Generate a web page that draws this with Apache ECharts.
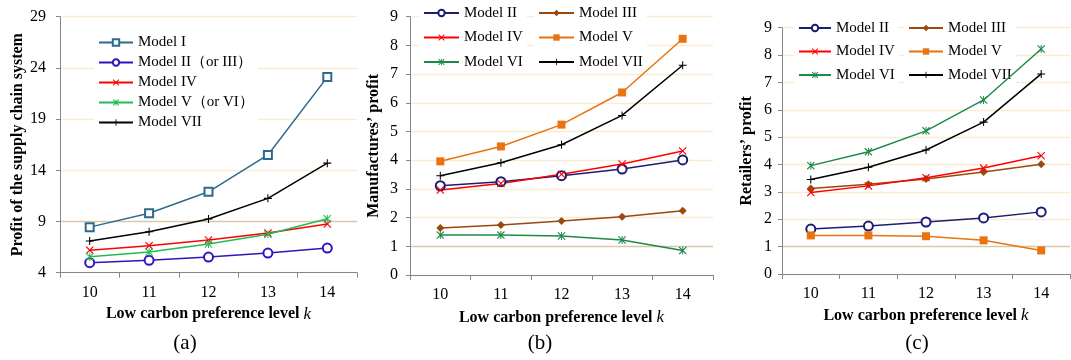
<!DOCTYPE html>
<html>
<head>
<meta charset="utf-8">
<script src="https://cdn.jsdelivr.net/npm/echarts@6/dist/echarts.min.js"></script>
<style>html,body{margin:0;padding:0;background:#fff}#c{width:1071px;height:360px}</style>
</head>
<body>
<div id="c"></div>
<script>
// ---- data ----
const categories = ['10', '11', '12', '13', '14'];
// (a) profit of the supply chain system
const sysModelI = [8.45, 9.8, 11.9, 15.5, 23.1];
const sysModelII = [4.98, 5.21, 5.53, 5.92, 6.41];
const sysModelIV = [6.2, 6.64, 7.19, 7.88, 8.76];
const sysModelV = [5.56, 6.02, 6.8, 7.75, 9.27];
const sysModelVII = [7.1, 8.0, 9.24, 11.26, 14.7];
// (b) manufacturers' profit
const mfgII = [3.11, 3.25, 3.46, 3.69, 4.01];
const mfgIII = [1.64, 1.74, 1.88, 2.03, 2.24];
const mfgIV = [2.96, 3.19, 3.51, 3.87, 4.32];
const mfgV = [3.96, 4.48, 5.24, 6.36, 8.23];
const mfgVI = [1.39, 1.39, 1.36, 1.22, 0.85];
const mfgVII = [3.46, 3.91, 4.54, 5.56, 7.31];
// (c) retailers' profit
const retII = [1.64, 1.75, 1.90, 2.05, 2.27];
const retIII = [3.12, 3.28, 3.47, 3.73, 4.01];
const retIV = [2.98, 3.22, 3.52, 3.87, 4.32];
const retV = [1.41, 1.41, 1.38, 1.23, 0.86];
const retVI = [3.96, 4.47, 5.23, 6.36, 8.22];
const retVII = [3.45, 3.90, 4.53, 5.55, 7.31];

const panelTitles = ['(a)', '(b)', '(c)'];
const yNames = ['Profit of the supply chain system', 'Manufactures\u2019 profit', 'Retailers\u2019 profit'];

// ---- styling ----
const FONT = '"Liberation Serif", "Times New Roman", "Noto Serif", serif';
const AXIS = '#868686';
const GRID_LIGHT = '#FAEBD2';
const GRID_DARK = '#D8CAA8';

const X_PATH = 'path://M0,1 L1,0 L5,4 L9,0 L10,1 L6,5 L10,9 L9,10 L5,6 L1,10 L0,9 L4,5 Z';
const PLUS_PATH = 'path://M4.35,0 H5.65 V4.35 H10 V5.65 H5.65 V10 H4.35 V5.65 H0 V4.35 H4.35 Z';
const STAR_PATH = 'path://M0,1 L1,0 L5,4 L9,0 L10,1 L6,5 L10,9 L9,10 L5,6 L1,10 L0,9 L4,5 Z M4.4,0 H5.6 V10 H4.4 Z';

const C = {
  I: '#2E6A8E', IIa: '#3214BE', IV: '#FF0000', Va: '#22BB55', VII: '#000000',
  II: '#1C1C72', III: '#9A480C', V: '#E8730F', VI: '#1E8A4A'
};

function mk(name, data, color, symbol, size, idx, empty) {
  return {
    type: 'line', name: name, data: data,
    xAxisIndex: idx, yAxisIndex: idx,
    symbol: symbol, symbolSize: size, showSymbol: true,
    lineStyle: { color: color, width: 1.5 },
    itemStyle: empty ? { color: color, borderColor: color, borderWidth: 1.4 } : { color: color, borderWidth: 0 },
    emphasis: { disabled: true }, animation: false
  };
}

const grids = [
  { left: 60, top: 16.7, width: 297, height: 256 },
  { left: 410, top: 16.7, width: 303, height: 258.3 },
  { left: 782, top: 27.7, width: 288, height: 246.3 }
];

function xAxis(idx, gap) {
  return {
    type: 'category', gridIndex: idx, data: categories, boundaryGap: true,
    axisLine: { lineStyle: { color: AXIS, width: 1 } },
    axisTick: { show: true, length: 5, lineStyle: { color: AXIS } },
    axisLabel: { color: '#000', fontFamily: FONT, fontSize: 16, margin: 12 },
    name: 'Low carbon preference level {i|k}', nameLocation: 'middle', nameGap: gap,
    nameTextStyle: {
      color: '#000', fontFamily: FONT, fontSize: 16, fontWeight: 'bold',
      rich: { i: { fontFamily: FONT, fontSize: 17, fontStyle: 'italic', fontWeight: 'normal', color: '#000' } }
    }
  };
}
function yAxis(idx, min, max, interval, darkIndex, labelMargin, nameGap) {
  const n = Math.round((max - min) / interval) + 1;
  const colors = [];
  for (let i = 0; i < n; i++) colors.push(i === darkIndex ? GRID_DARK : GRID_LIGHT);
  return {
    type: 'value', gridIndex: idx, min: min, max: max, interval: interval,
    axisLine: { show: true, lineStyle: { color: AXIS, width: 1 } },
    axisTick: { show: true, length: 4, lineStyle: { color: AXIS } },
    axisLabel: { color: '#000', fontFamily: FONT, fontSize: 16, margin: labelMargin },
    splitLine: { show: true, lineStyle: { color: colors, width: 1.3 } },
    name: yNames[idx], nameLocation: 'middle', nameRotate: 90, nameGap: nameGap,
    nameTextStyle: { color: '#000', fontFamily: FONT, fontSize: 16, fontWeight: 'bold' }
  };
}

const legendText = { fontFamily: FONT, fontSize: 15, color: '#000', lineHeight: 15 };
function legend(left, top, gap, w, data) {
  return {
    orient: 'vertical', left: left, top: top, itemWidth: w, itemHeight: 8, itemGap: gap,
    padding: [2, 4], backgroundColor: '#ffffff', textStyle: legendText, z: 1,
    selectedMode: false, data: data
  };
}

const option = {
  animation: false,
  backgroundColor: '#ffffff',
  grid: grids,
  xAxis: [xAxis(0, 32), xAxis(1, 34), xAxis(2, 32)],
  yAxis: [
    yAxis(0, 4, 29, 5, 1, 14, 34),
    yAxis(1, 0, 9, 1, 1, 12, 28),
    yAxis(2, 0, 9, 1, 1, 10, 27)
  ],
  title: panelTitles.map((t, i) => ({
    text: t, left: [180, 535, 912][i], top: 328, textAlign: 'center',
    textStyle: { fontFamily: FONT, fontSize: 21, fontWeight: 'normal', color: '#000' }
  })),
  legend: [
    legend(94, 33, 5, 34, ['Model I', 'Model II\uFF08or III\uFF09', 'Model IV', 'Model V\uFF08or VI\uFF09', 'Model VII']),
    legend(419, 3.5, 9.5, 35, ['Model II', 'Model IV', 'Model VI']),
    legend(534, 3.5, 9.5, 35, ['Model III', 'Model V', 'Model VII']),
    legend(794, 18.5, 8.5, 32, ['Model II', 'Model IV', 'Model VI']),
    legend(904, 18.5, 8.5, 34, ['Model III', 'Model V', 'Model VII'])
  ],
  series: [
    mk('Model I', sysModelI, C.I, 'emptyRect', 8, 0, true),
    mk('Model II\uFF08or III\uFF09', sysModelII, C.IIa, 'emptyCircle', 9, 0, true),
    mk('Model IV', sysModelIV, C.IV, X_PATH, 8, 0, false),
    mk('Model V\uFF08or VI\uFF09', sysModelV, C.Va, STAR_PATH, 8, 0, false),
    mk('Model VII', sysModelVII, C.VII, PLUS_PATH, 8, 0, false),

    mk('Model II', mfgII, C.II, 'emptyCircle', 9, 1, true),
    mk('Model III', mfgIII, C.III, 'diamond', 8, 1, false),
    mk('Model IV', mfgIV, C.IV, X_PATH, 8, 1, false),
    mk('Model V', mfgV, C.V, 'rect', 8, 1, false),
    mk('Model VI', mfgVI, C.VI, STAR_PATH, 8, 1, false),
    mk('Model VII', mfgVII, C.VII, PLUS_PATH, 8, 1, false),

    mk('Model II', retII, C.II, 'emptyCircle', 9, 2, true),
    mk('Model III', retIII, C.III, 'diamond', 8, 2, false),
    mk('Model IV', retIV, C.IV, X_PATH, 8, 2, false),
    mk('Model V', retV, C.V, 'rect', 8, 2, false),
    mk('Model VI', retVI, C.VI, STAR_PATH, 8, 2, false),
    mk('Model VII', retVII, C.VII, PLUS_PATH, 8, 2, false)
  ]
};

const chart = echarts.init(document.getElementById('c'), null, { renderer: 'canvas' });
chart.setOption(option);
</script>
</body>
</html>
